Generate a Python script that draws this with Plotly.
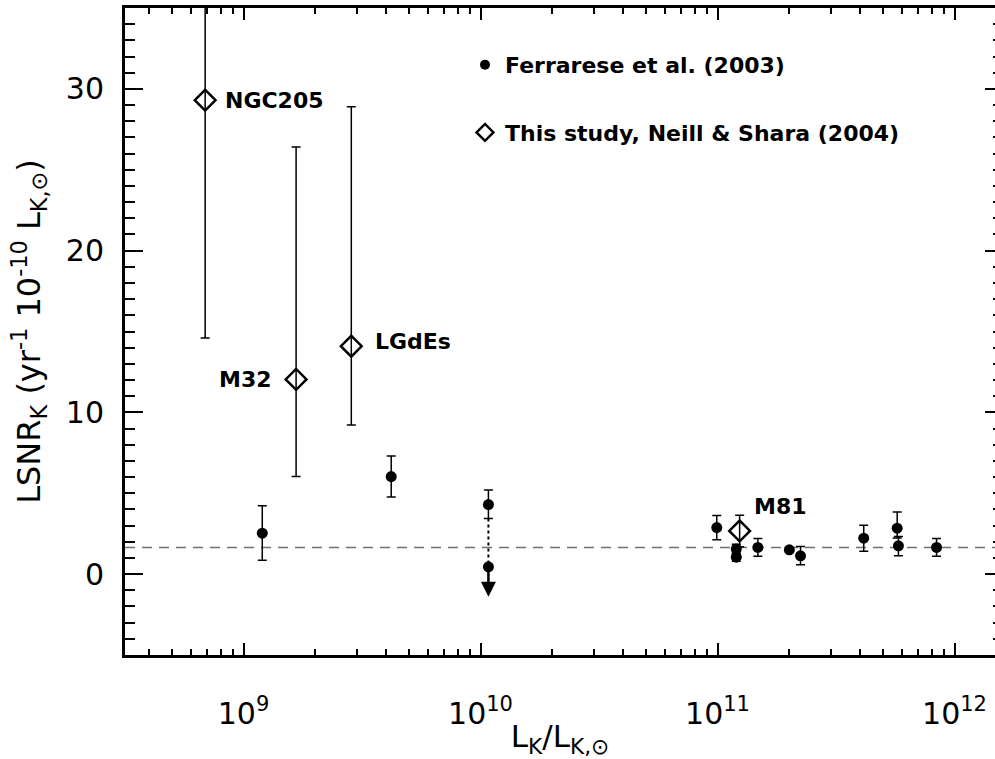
import math
import plotly.graph_objects as go

# ---------------- data ----------------
# Ferrarese et al. (2003): L_K/L_K,sun, LSNR_K, errors
fer_L = [1.20e9, 4.20e9, 1.08e10, 9.93e10, 1.20e11, 1.20e11, 1.48e11, 2.01e11,
         2.24e11, 4.14e11, 5.73e11, 5.80e11, 8.40e11]
fer_y = [2.53, 6.03, 4.30, 2.88, 1.55, 1.05, 1.65, 1.50, 1.13, 2.22, 2.84, 1.75, 1.65]
fer_ep = [1.69, 1.27, 0.90, 0.75, 0.30, 0.25, 0.56, 0.15, 0.58, 0.80, 1.00, 0.58, 0.55]
fer_em = [1.67, 1.26, 0.86, 0.75, 0.30, 0.25, 0.55, 0.15, 0.55, 0.80, 0.60, 0.62, 0.55]

# upper limit (same galaxy as the 1.08e10 point)
ul_L = 1.08e10
ul_from = 3.44      # bottom of error bar of detection
ul_y = 0.45
ul_to = -1.4

# This study, Neill & Shara (2004)
ns_names = ["NGC205", "M32", "LGdEs", "M81"]
ns_L = [6.89e8, 1.667e9, 2.85e9, 1.24e11]
ns_y = [29.3, 12.04, 14.09, 2.67]
ns_ep = [15.0, 14.36, 14.8, 0.97]
ns_em = [14.7, 6.01, 4.87, 0.97]

ref_level = 1.65

x_ticks = [1e9, 1e10, 1e11, 1e12]
x_ticktext = ["10<sup>9</sup>", "10<sup>10</sup>", "10<sup>11</sup>", "10<sup>12</sup>"]
y_ticks = [0, 10, 20, 30]

FONT = "DejaVu Sans"

fig = go.Figure()

# reference dashed line
fig.add_shape(type="line", xref="paper", x0=0, x1=1, yref="y", y0=ref_level, y1=ref_level,
              line=dict(color="#707070", width=1.5, dash="10px,7px"), layer="below")

# dotted connector to upper limit
fig.add_trace(go.Scatter(x=[ul_L, ul_L], y=[ul_from, ul_y], mode="lines",
                         line=dict(color="black", width=2, dash="dot"),
                         showlegend=False, hoverinfo="skip"))

# Ferrarese points
fig.add_trace(go.Scatter(
    x=fer_L, y=fer_y, mode="markers",
    marker=dict(symbol="circle", size=11, color="black"),
    error_y=dict(type="data", symmetric=False, array=fer_ep, arrayminus=fer_em,
                 color="black", thickness=1.5, width=4.5),
    showlegend=False))

# upper limit point
fig.add_trace(go.Scatter(x=[ul_L], y=[ul_y], mode="markers",
                         marker=dict(symbol="circle", size=11, color="black"),
                         showlegend=False))

# Neill & Shara points
fig.add_trace(go.Scatter(
    x=ns_L, y=ns_y, mode="markers",
    marker=dict(symbol="diamond-open", size=16, color="black", line=dict(width=2.5, color="black")),
    error_y=dict(type="data", symmetric=False, array=ns_ep, arrayminus=ns_em,
                 color="black", thickness=1.5, width=4.5),
    showlegend=False))

# legend-only traces
fig.add_trace(go.Scatter(x=[None], y=[None], mode="markers", name="Ferrarese et al. (2003)",
                         marker=dict(symbol="circle", size=10, color="black"),
                         legendgroup="a"))
fig.add_trace(go.Scatter(x=[None], y=[None], mode="markers", name="This study, Neill & Shara (2004)",
                         marker=dict(symbol="diamond-open", size=13, color="black",
                                     line=dict(width=2.5, color="black")),
                         legendgroup="b"))

# invisible trace for right-hand tick axis
fig.add_trace(go.Scatter(x=[None], y=[None], yaxis="y2", showlegend=False, hoverinfo="skip"))

# arrow for upper limit
fig.add_annotation(x=math.log10(ul_L), y=ul_to, ax=math.log10(ul_L), ay=ul_y,
                   xref="x", yref="y", axref="x", ayref="y", text="",
                   showarrow=True, arrowhead=2, arrowsize=1.2, arrowwidth=2.5,
                   arrowcolor="black", standoff=0, startstandoff=0)

# labels
label_style = dict(
    NGC205=dict(xanchor="left", xshift=18, yshift=0),
    M32=dict(xanchor="right", xshift=-22, yshift=0),
    LGdEs=dict(xanchor="left", xshift=22, yshift=5),
    M81=dict(xanchor="left", xshift=12, yshift=24),
)
for name, L, yv in zip(ns_names, ns_L, ns_y):
    st = label_style[name]
    fig.add_annotation(x=math.log10(L), y=yv, text=name, showarrow=False,
                       xanchor=st["xanchor"], yanchor="middle",
                       xshift=st["xshift"], yshift=st["yshift"],
                       font=dict(family=FONT, size=22, color="black", weight="bold"))

minor_x = [k * 10 ** e for e in range(8, 13) for k in range(2, 10)]

fig.update_layout(
    width=995, height=759,
    margin=dict(l=125, r=0, t=8, b=104),
    paper_bgcolor="white", plot_bgcolor="white",
    font=dict(family=FONT, color="black"),
    xaxis=dict(
        type="log", range=[8.5, 8.5 + 870 / 237],
        tickvals=x_ticks, ticktext=x_ticktext,
        ticks="inside", ticklen=12, tickwidth=2, tickcolor="black",
        minor=dict(tickvals=minor_x, ticks="inside", ticklen=6, tickwidth=2, tickcolor="black", showgrid=False),
        showline=True, linewidth=3, linecolor="black", mirror="ticks",
        showgrid=False, zeroline=False,
        tickfont=dict(family=FONT, size=30, color="black"),
        ticklabelstandoff=30,
        title=dict(text="L<sub>K</sub>/L<sub>K,⊙</sub>", font=dict(family=FONT, size=31, color="black"),
                   standoff=0),
    ),
    yaxis=dict(
        range=[-5, 35], tickvals=y_ticks,
        ticks="inside", ticklen=18, tickwidth=2, tickcolor="black",
        minor=dict(dtick=1, tick0=0, ticks="inside", ticklen=10, tickwidth=2, tickcolor="black", showgrid=False),
        showline=True, linewidth=3, linecolor="black", mirror=False,
        showgrid=False, zeroline=False,
        tickfont=dict(family=FONT, size=30, color="black"),
        ticklabelstandoff=12,
        title=dict(text="LSNR<sub>K</sub> (yr<sup>-1</sup> 10<sup>-10</sup> L<sub>K,⊙</sub>)",
                   font=dict(family=FONT, size=32, color="black"), standoff=16),
    ),
    yaxis2=dict(
        overlaying="y", side="right", anchor="x", range=[-5, 35], tickvals=y_ticks,
        ticks="inside", ticklen=10, tickwidth=2, tickcolor="black",
        minor=dict(dtick=1, tick0=0, ticks="inside", ticklen=2, tickwidth=2, tickcolor="black", showgrid=False),
        showline=False, showgrid=False, zeroline=False, showticklabels=False,
    ),
    legend=dict(
        x=(465 - 125) / 870, y=1 - (44 - 8) / 647, xanchor="left", yanchor="top",
        bgcolor="rgba(0,0,0,0)", borderwidth=0,
        font=dict(family=FONT, size=22, color="black", weight="bold"),
        traceorder="grouped", tracegroupgap=36,
    ),
    showlegend=True,
)

fig.write_html("out.html")
